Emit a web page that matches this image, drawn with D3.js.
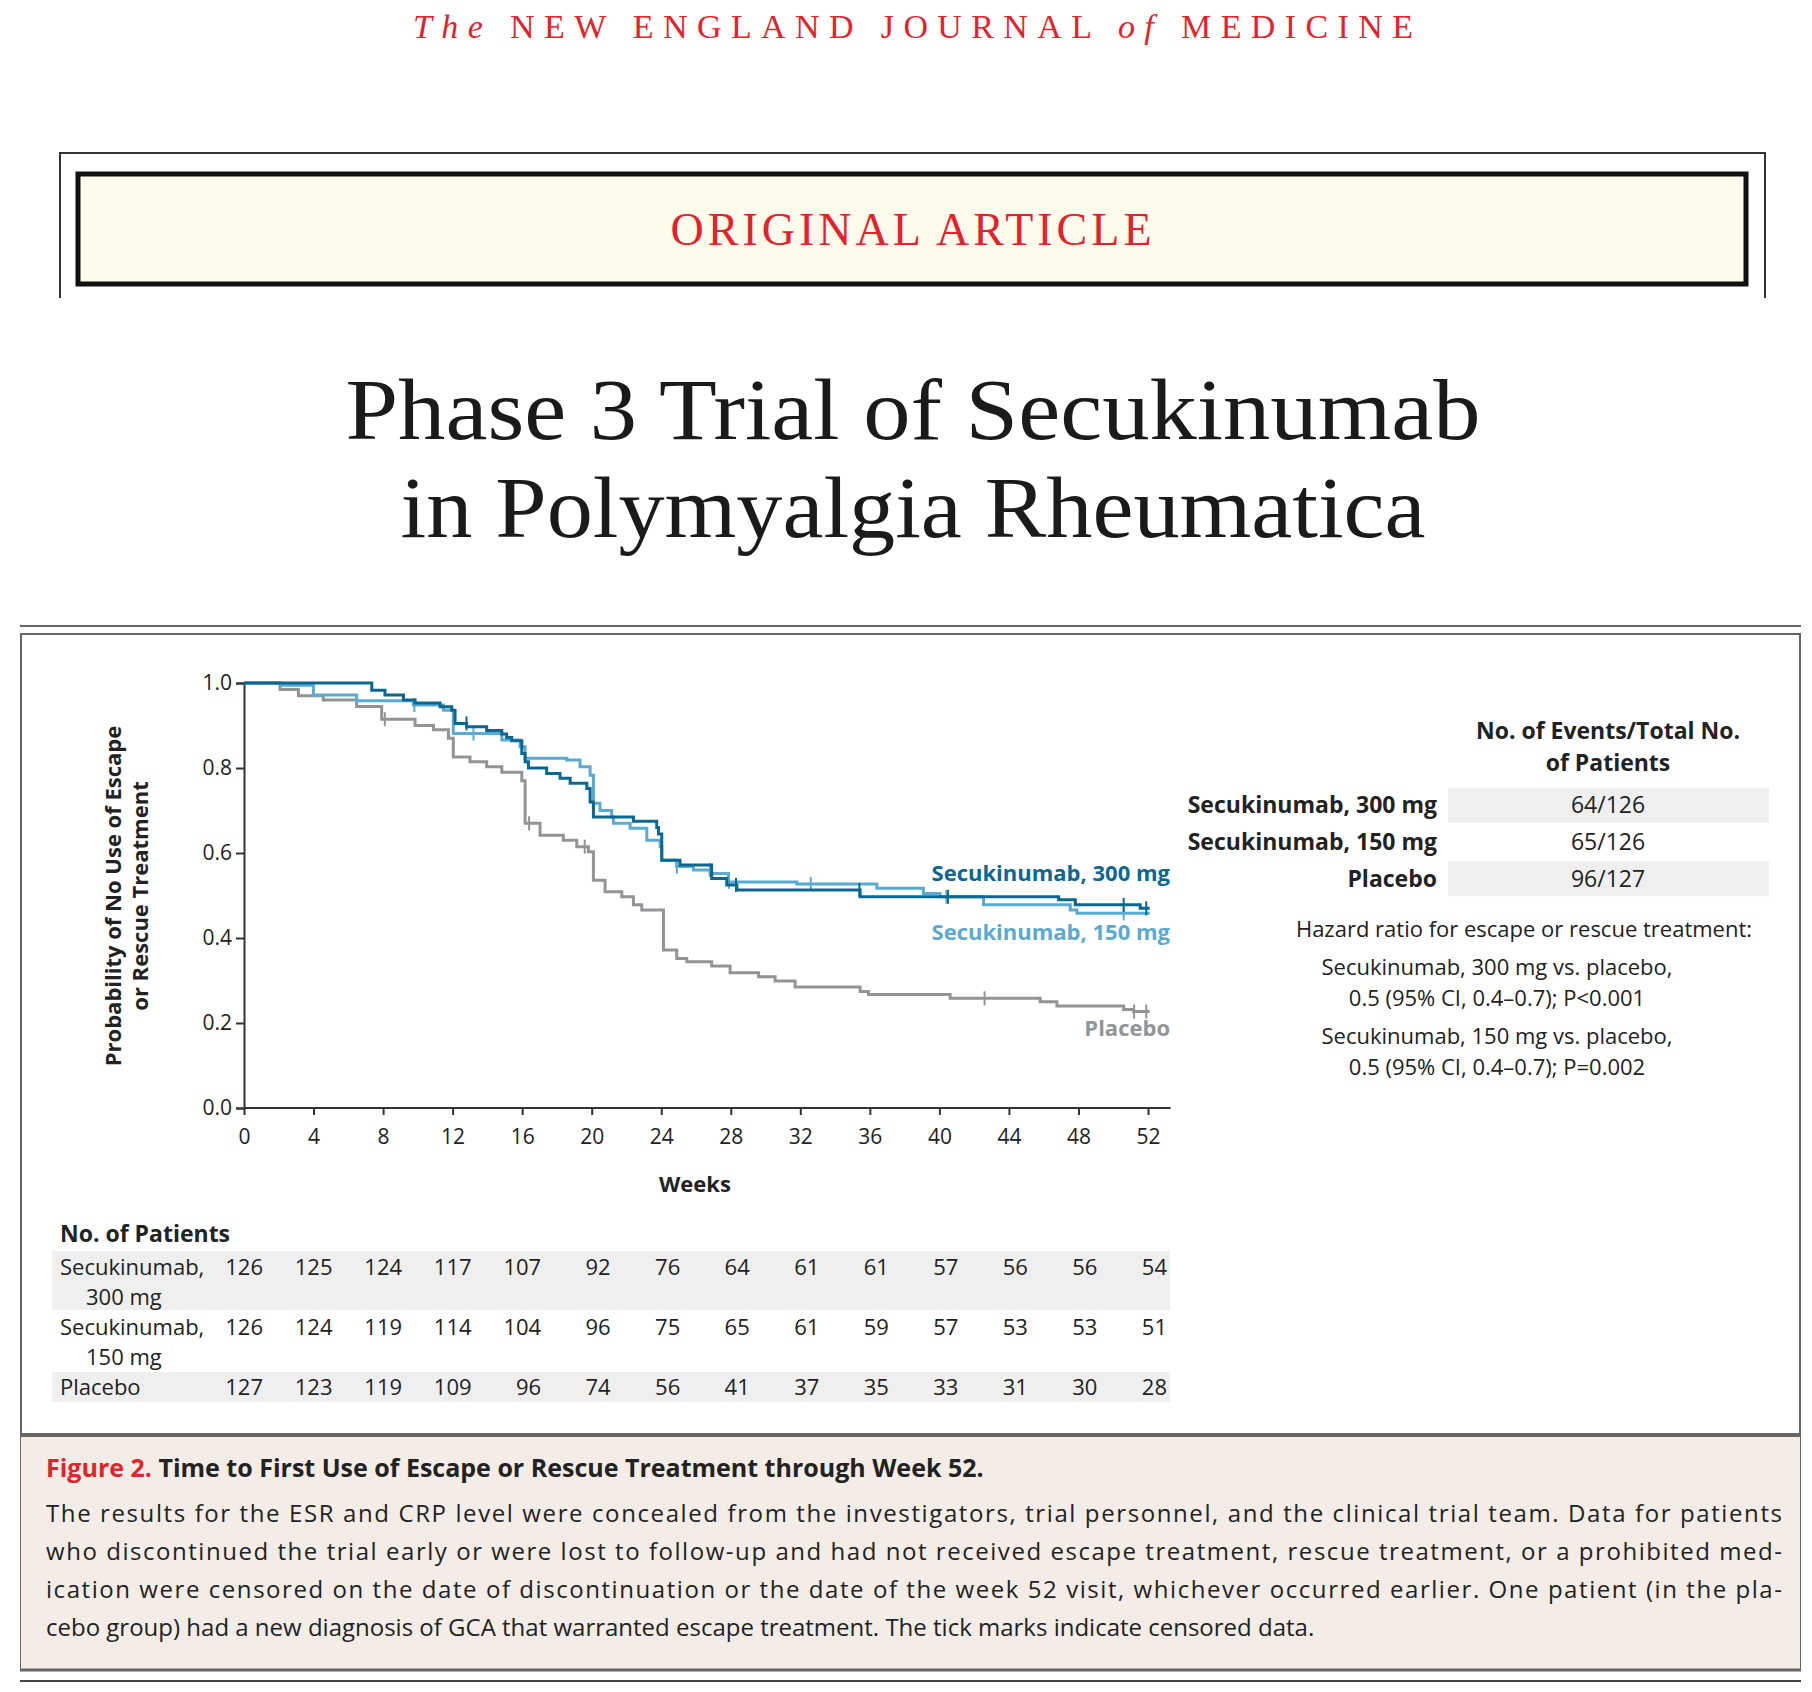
<!DOCTYPE html>
<html><head><meta charset="utf-8">
<script src="https://cdn.jsdelivr.net/npm/d3@7"></script>
<style>body{margin:0;background:#fff}</style>
</head><body><div id="chart"></div>
<script>
// step curves: [week, survival from that week on]
const s300 = [[0,1],[7.35,0.983],[8.11,0.972],[9.17,0.96],[9.84,0.953],[11.28,0.944],[11.95,0.936],[12.14,0.905],[12.81,0.897],[13.96,0.888],[14.83,0.88],[15.11,0.872],[15.4,0.864],[15.98,0.834],[16.17,0.815],[16.36,0.8],[17.41,0.787],[18.18,0.776],[18.76,0.764],[19.72,0.752],[19.91,0.72],[20.1,0.685],[22.4,0.675],[23.74,0.66],[23.84,0.645],[24.03,0.583],[25.08,0.572],[26.9,0.54],[27.77,0.525],[28.35,0.513],[35.44,0.497],[46.86,0.49],[47.82,0.478],[51.55,0.47],[52.1,0.47]];
const s150 = [[0,1],[2.07,0.995],[3.99,0.972],[6.48,0.958],[9.74,0.948],[11.47,0.936],[12.04,0.881],[14.83,0.866],[15.88,0.85],[16.17,0.823],[18.57,0.819],[19.33,0.803],[19.91,0.783],[20.1,0.717],[20.48,0.7],[21.15,0.685],[21.25,0.67],[22.21,0.658],[23.17,0.63],[23.94,0.615],[24.03,0.583],[24.89,0.568],[25.85,0.56],[26.81,0.552],[27.87,0.532],[31.8,0.527],[36.4,0.517],[39.08,0.505],[40.04,0.497],[42.54,0.478],[47.53,0.466],[47.91,0.458],[52.1,0.458]];
const sPbo = [[0,1],[2.07,0.985],[3.13,0.97],[4.56,0.96],[6.48,0.945],[7.92,0.915],[9.84,0.9],[10.9,0.89],[11.76,0.87],[12.04,0.826],[13.0,0.815],[13.96,0.803],[14.83,0.79],[15.98,0.77],[16.17,0.67],[17.03,0.642],[18.37,0.63],[19.14,0.615],[19.81,0.603],[20.1,0.536],[20.77,0.509],[21.73,0.497],[22.4,0.478],[22.88,0.466],[24.13,0.372],[24.89,0.352],[25.47,0.344],[26.9,0.334],[27.96,0.318],[29.6,0.309],[30.55,0.299],[31.7,0.285],[35.44,0.274],[35.92,0.267],[40.62,0.258],[45.8,0.25],[46.76,0.24],[50.6,0.232],[51.17,0.227],[52.1,0.227]];
// censor tick weeks
const c300 = [12.8, 28.3, 35.4, 40.5, 50.6, 51.9];
const c150 = [9.8, 13.2, 24.9, 26.8, 27.9, 32.6, 40.4, 50.6];
const cPbo = [8.1, 16.4, 19.6, 42.6, 51.2, 51.9];

const weekTicks = d3.range(0, 53, 4);
const yTicks = [0, 0.2, 0.4, 0.6, 0.8, 1.0];
const riskGroups = ["Secukinumab,|300 mg", "Secukinumab,|150 mg", "Placebo"];
const risk300 = [126,125,124,117,107,92,76,64,61,61,57,56,56,54];
const risk150 = [126,124,119,114,104,96,75,65,61,59,57,53,53,51];
const riskPbo = [127,123,119,109,96,74,56,41,37,35,33,31,30,28];
const eventGroups = ["Secukinumab, 300 mg", "Secukinumab, 150 mg", "Placebo"];
const eventValues = ["64/126", "65/126", "96/127"];
const hazardLines = ["Hazard ratio for escape or rescue treatment:", "Secukinumab, 300 mg vs. placebo,", "0.5 (95% CI, 0.4\u20130.7); P<0.001", "Secukinumab, 150 mg vs. placebo,", "0.5 (95% CI, 0.4\u20130.7); P=0.002"];
const captionLines = [
  "The results for the ESR and CRP level were concealed from the investigators, trial personnel, and the clinical trial team. Data for patients",
  "who discontinued the trial early or were lost to follow-up and had not received escape treatment, rescue treatment, or a prohibited med-",
  "ication were censored on the date of discontinuation or the date of the week 52 visit, whichever occurred earlier. One patient (in the pla-",
  "cebo group) had a new diagnosis of GCA that warranted escape treatment. The tick marks indicate censored data."];

const W = 1812, H = 1692;
const SANS = "'Open Sans', 'Noto Sans', sans-serif";
const SERIF = "'Liberation Serif', 'DejaVu Serif', serif";
const DARK = "#0a6791", LIGHT = "#5aaad4", GREY = "#929497", RED = "#e3232c";

const svg = d3.select("#chart").append("svg").attr("width", W).attr("height", H);

// header
const hdr = svg.append("text").attr("x", 413).attr("y", 38).attr("fill", RED)
  .style("font-family", SERIF).style("font-size", "34px")
  .attr("textLength", 1000).attr("lengthAdjust", "spacing");
hdr.append("tspan").style("font-style", "italic").text("The ");
hdr.append("tspan").text("NEW ENGLAND JOURNAL ");
hdr.append("tspan").style("font-style", "italic").text("of ");
hdr.append("tspan").text("MEDICINE");

// article banner
svg.append("path").attr("d", "M60,298 V153 H1765 V298").attr("fill", "none").attr("stroke", "#333").attr("stroke-width", 2);
svg.append("rect").attr("x", 78).attr("y", 174).attr("width", 1668).attr("height", 110)
  .attr("fill", "#fdfcec").attr("stroke", "#111").attr("stroke-width", 5);
svg.append("text").attr("x", 913).attr("y", 245).attr("text-anchor", "middle").attr("fill", RED)
  .style("font-family", SERIF).style("font-size", "46px").style("letter-spacing", "4px").text("ORIGINAL ARTICLE");

// title
[["Phase 3 Trial of Secukinumab", 439, 1135], ["in Polymyalgia Rheumatica", 537, 1025]].forEach(([t, y, len]) => {
  svg.append("text").attr("x", 913).attr("y", y).attr("text-anchor", "middle").attr("fill", "#1a1a1a")
    .style("font-family", SERIF).style("font-size", "86px")
    .attr("textLength", len).attr("lengthAdjust", "spacingAndGlyphs").text(t);
});

// figure frame
svg.append("line").attr("x1", 20).attr("x2", 1801).attr("y1", 626).attr("y2", 626).attr("stroke", "#666").attr("stroke-width", 2);
svg.append("rect").attr("x", 21).attr("y", 634).attr("width", 1779).attr("height", 1036).attr("fill", "#fff").attr("stroke", "#666").attr("stroke-width", 2);
svg.append("rect").attr("x", 21).attr("y", 1435).attr("width", 1779).attr("height", 235).attr("fill", "#f3ece7");
svg.append("line").attr("x1", 20).attr("x2", 1801).attr("y1", 1435).attr("y2", 1435).attr("stroke", "#666").attr("stroke-width", 4);
svg.append("line").attr("x1", 20).attr("x2", 1801).attr("y1", 1670).attr("y2", 1670).attr("stroke", "#666").attr("stroke-width", 3);
svg.append("line").attr("x1", 20).attr("x2", 1801).attr("y1", 1681).attr("y2", 1681).attr("stroke", "#444").attr("stroke-width", 2);

// plot
const x = d3.scaleLinear().domain([0, 52]).range([244, 1148]);
const y = d3.scaleLinear().domain([0, 1]).range([1108, 683]);
const g = svg.append("g").style("font-family", SANS);

const xAxis = g.append("g").attr("transform", "translate(0,1108)")
  .call(d3.axisBottom(x).tickValues(weekTicks).tickSize(7).tickPadding(14));
xAxis.select(".domain").attr("d", `M${x(0)},0H${x(53.3)}`);
const yAxis = g.append("g").attr("transform", "translate(244,0)")
  .call(d3.axisLeft(y).tickValues(yTicks).tickFormat(d3.format(".1f")).tickSize(8).tickPadding(4));
[xAxis, yAxis].forEach(a => {
  a.selectAll("path,line").attr("stroke", "#333").attr("stroke-width", 2);
  a.selectAll("text").attr("fill", "#222").style("font-size", "21px").style("font-family", SANS);
});

g.append("text").attr("x", 695).attr("y", 1192).attr("text-anchor", "middle").attr("font-weight", 700)
  .style("font-size", "22px").attr("fill", "#222").text("Weeks");
const yl = g.append("text").attr("transform", "translate(121,896) rotate(-90)").attr("text-anchor", "middle")
  .attr("font-weight", 700).style("font-size", "22px").attr("fill", "#222");
yl.append("tspan").attr("x", 0).attr("dy", 0).text("Probability of No Use of Escape");
yl.append("tspan").attr("x", 0).attr("dy", 27).text("or Rescue Treatment");

const line = d3.line().x(d => x(d[0])).y(d => y(d[1])).curve(d3.curveStepAfter);
function valueAt(s, w) { let v = s[0][1]; s.forEach(d => { if (d[0] <= w) v = d[1]; }); return v; }
[[sPbo, cPbo, GREY], [s150, c150, LIGHT], [s300, c300, DARK]].forEach(([s, c, col]) => {
  g.append("path").datum(s).attr("d", line).attr("fill", "none").attr("stroke", col).attr("stroke-width", 3);
  g.selectAll(null).data(c).enter().append("line")
    .attr("x1", d => x(d)).attr("x2", d => x(d))
    .attr("y1", d => y(valueAt(s, d)) - 7).attr("y2", d => y(valueAt(s, d)) + 7)
    .attr("stroke", col).attr("stroke-width", 2);
});

[["Secukinumab, 300 mg", 881, DARK], ["Secukinumab, 150 mg", 940, LIGHT], ["Placebo", 1036, GREY]].forEach(([t, yy, col]) => {
  g.append("text").attr("x", 1170).attr("y", yy).attr("text-anchor", "end").attr("font-weight", 700)
    .style("font-size", "22px").attr("fill", col).text(t);
});

// number at risk
g.append("text").attr("x", 60).attr("y", 1242).attr("font-weight", 700).style("font-size", "23px").attr("fill", "#222").text("No. of Patients");
const riskRows = [[risk300, 1275], [risk150, 1335], [riskPbo, 1395]];
g.append("rect").attr("x", 52).attr("y", 1251).attr("width", 1118).attr("height", 59).attr("fill", "#efefef");
g.append("rect").attr("x", 52).attr("y", 1372).attr("width", 1118).attr("height", 30).attr("fill", "#efefef");
riskRows.forEach(([vals, yy], i) => {
  const parts = riskGroups[i].split("|");
  g.append("text").attr("x", 60).attr("y", yy).style("font-size", "22px").attr("fill", "#222").text(parts[0]);
  if (parts[1]) g.append("text").attr("x", 86).attr("y", yy + 30).style("font-size", "22px").attr("fill", "#222").text(parts[1]);
  g.selectAll(null).data(vals).enter().append("text")
    .attr("x", (d, j) => x(weekTicks[j]) + 19).attr("y", yy).attr("text-anchor", "end")
    .style("font-size", "22px").attr("fill", "#222").text(d => d);
});

// events table
const ht = g.append("text").attr("x", 1608).attr("text-anchor", "middle").attr("font-weight", 700).style("font-size", "23px").attr("fill", "#222");
ht.append("tspan").attr("x", 1608).attr("y", 739).text("No. of Events/Total No.");
ht.append("tspan").attr("x", 1608).attr("y", 771).text("of Patients");
const rowY = d3.scaleBand().domain(eventGroups).range([786, 898]).padding(0.05);
g.selectAll(null).data(eventGroups.filter((d, i) => i !== 1)).enter().append("rect")
  .attr("x", 1448).attr("width", 321).attr("y", d => rowY(d)).attr("height", rowY.bandwidth()).attr("fill", "#efefef");
eventGroups.forEach((gname, i) => {
  const yy = rowY(gname) + rowY.bandwidth() / 2 + 8;
  g.append("text").attr("x", 1437).attr("y", yy).attr("text-anchor", "end").attr("font-weight", 700)
    .style("font-size", "23px").attr("fill", "#222").text(gname);
  g.append("text").attr("x", 1608).attr("y", yy).attr("text-anchor", "middle")
    .style("font-size", "23px").attr("fill", "#222").text(eventValues[i]);
});
const hx = [1524, 1497, 1497, 1497, 1497], hy = [937, 975, 1006, 1044, 1075];
hazardLines.forEach((t, i) => {
  g.append("text").attr("x", hx[i]).attr("y", hy[i]).attr("text-anchor", "middle")
    .style("font-size", "22px").attr("fill", "#222").text(t);
});

// caption
const cap = g.append("text").attr("x", 46).attr("y", 1477).style("font-size", "25px").attr("font-weight", 700);
cap.append("tspan").attr("fill", RED).text("Figure 2. ");
cap.append("tspan").attr("fill", "#222").text("Time to First Use of Escape or Rescue Treatment through Week 52.");
captionLines.forEach((t, i) => {
  const tx = g.append("text").attr("x", 46).attr("y", 1522 + i * 38).style("font-size", "24px").attr("fill", "#222").text(t);
  if (i < 3) tx.attr("textLength", 1736).attr("lengthAdjust", "spacing");
});
</script></body></html>
